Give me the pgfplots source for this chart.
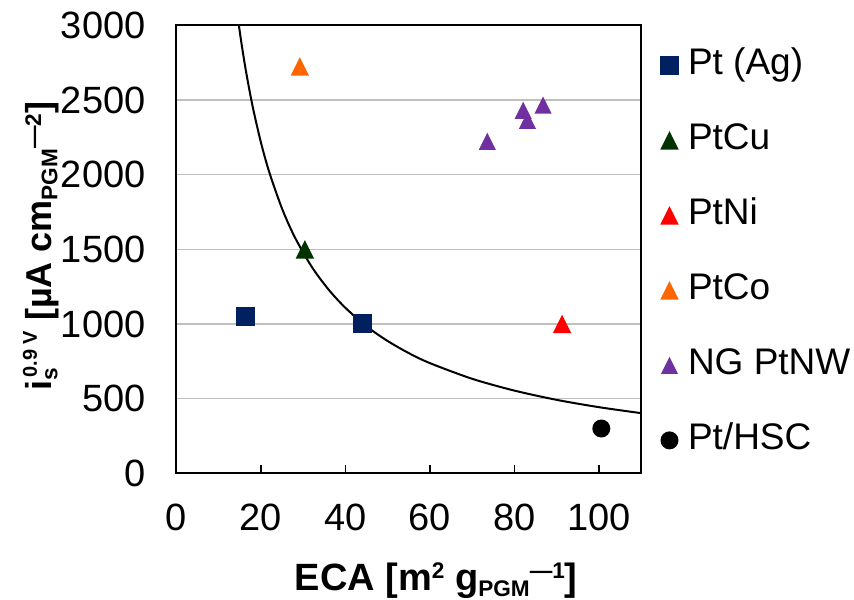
\documentclass[border=0pt]{standalone}
\usepackage{fontspec}
\setmainfont{Liberation Sans}
\usepackage{pgfplots}
\pgfplotsset{compat=1.18}

\definecolor{ptag}{HTML}{002060}
\definecolor{ptcu}{HTML}{003300}
\definecolor{ptni}{HTML}{FF0000}
\definecolor{ptco}{HTML}{FF6600}
\definecolor{ngpt}{HTML}{7030A0}
\definecolor{gridgray}{HTML}{BFBFBF}

% small raised / lowered text for the axis titles
\newcommand\up[1]{\raisebox{0.3em}{\fontsize{11.3}{11.3}\selectfont #1}}
\newcommand\dn[1]{\raisebox{-0.15em}{\fontsize{11.3}{11.3}\selectfont #1}}

% filled marks without outline
\pgfdeclareplotmark{fsquare}{%
  \pgfpathrectangle{\pgfqpoint{-\pgfplotmarksize}{-\pgfplotmarksize}}%
    {\pgfqpoint{2\pgfplotmarksize}{2\pgfplotmarksize}}%
  \pgfusepathqfill}
\pgfdeclareplotmark{ftri}{%
  \pgfpathmoveto{\pgfqpoint{0pt}{\pgfplotmarksize}}%
  \pgfpathlineto{\pgfqpoint{\pgfplotmarksize}{-\pgfplotmarksize}}%
  \pgfpathlineto{\pgfqpoint{-\pgfplotmarksize}{-\pgfplotmarksize}}%
  \pgfpathclose
  \pgfusepathqfill}
\pgfdeclareplotmark{fdot}{%
  \pgfpathcircle{\pgfpointorigin}{\pgfplotmarksize}%
  \pgfusepathqfill}

\begin{document}
\begin{tikzpicture}
\begin{axis}[
  scale only axis,
  width=232.25pt, height=224pt,
  xmin=0, xmax=110, ymin=0, ymax=3000,
  xtick={0,20,...,100},
  ytick={0,500,...,3000},
  xtick pos=bottom,
  ytick pos=left,
  tick align=inside,
  major tick length=4pt,
  xtick style={black, line width=0.8pt},
  ytick style={draw=none},
  ymajorgrids,
  grid style={gridgray, line width=0.8pt},
  axis line style={black, line width=1pt},
  /pgf/number format/assume math mode=true,
  /pgf/number format/set thousands separator={},
  tick label style={font=\fontsize{19}{21}\selectfont},
  xticklabel style={anchor=base, yshift=-28.7pt},
  yticklabel style={xshift=-12pt},
  xlabel={\textbf{ECA [m\up{2} g\dn{PGM}\up{—1}]}},
  xlabel style={at={(axis description cs:0.559,0)}, anchor=base,
    yshift=-58.5pt, font=\fontsize{19}{20}\selectfont},
  ylabel={\textbf{i\rlap{\dn{s}}\raisebox{0.42em}{\fontsize{10}{10}\selectfont\,0.9 V} [µA cm\dn{PGM}\up{—2}]}},
  ylabel style={at={([xshift=-62.25pt]axis description cs:0,0.507)}, anchor=base,
    font=\fontsize{18}{20}\selectfont},
  legend style={
    draw=none, fill=none, inner sep=0pt, outer sep=0pt,
    at={(axis description cs:1,0.9496)}, anchor=north west, xshift=9.5pt,
    font=\fontsize{18.5}{20}\selectfont,
    nodes={inner sep=0pt, text height=13.5pt, text depth=4pt},
    row sep=20pt, column sep=4.5pt,
  },
  legend cell align=left,
]
% fitted trend line
\addplot[black, line width=1pt, smooth, forget plot] coordinates {
  (14.77,3000) (15.5,2858) (16.5,2685) (18,2461) (20,2215) (22,2014)
  (25,1772) (28,1582) (32,1384) (36,1231) (40,1108) (45,984)
  (50,886) (55,805) (60,738) (70,633) (80,554) (90,492) (100,443) (110,403)
};
\addplot[only marks, mark=fsquare, mark size=4.75pt, color=ptag, fill=ptag]
  coordinates {(16.3,1050) (44.1,1002)};
\addlegendentry{Pt (Ag)}
\addplot[only marks, mark=ftri, mark size=4.6pt, color=ptcu, fill=ptcu]
  coordinates {(30.4,1500)};
\addlegendentry{PtCu}
\addplot[only marks, mark=ftri, mark size=4.6pt, color=ptni, fill=ptni]
  coordinates {(91.3,1000)};
\addlegendentry{PtNi}
\addplot[only marks, mark=ftri, mark size=4.6pt, color=ptco, fill=ptco]
  coordinates {(29.2,2725)};
\addlegendentry{PtCo}
\addplot[only marks, mark=ftri, mark size=4.3pt, color=ngpt, fill=ngpt]
  coordinates {(73.6,2223) (82.1,2431) (83.1,2364) (86.8,2466)};
\addlegendentry{NG PtNW}
\addplot[only marks, mark=fdot, mark size=4.5pt, color=black, fill=black]
  coordinates {(100.6,300)};
\addlegendentry{Pt/HSC}
\end{axis}
\pgfresetboundingbox
\path[use as bounding box] (-88.25pt,-62.85pt) rectangle (338.75pt,236.65pt);
\end{tikzpicture}
\end{document}
